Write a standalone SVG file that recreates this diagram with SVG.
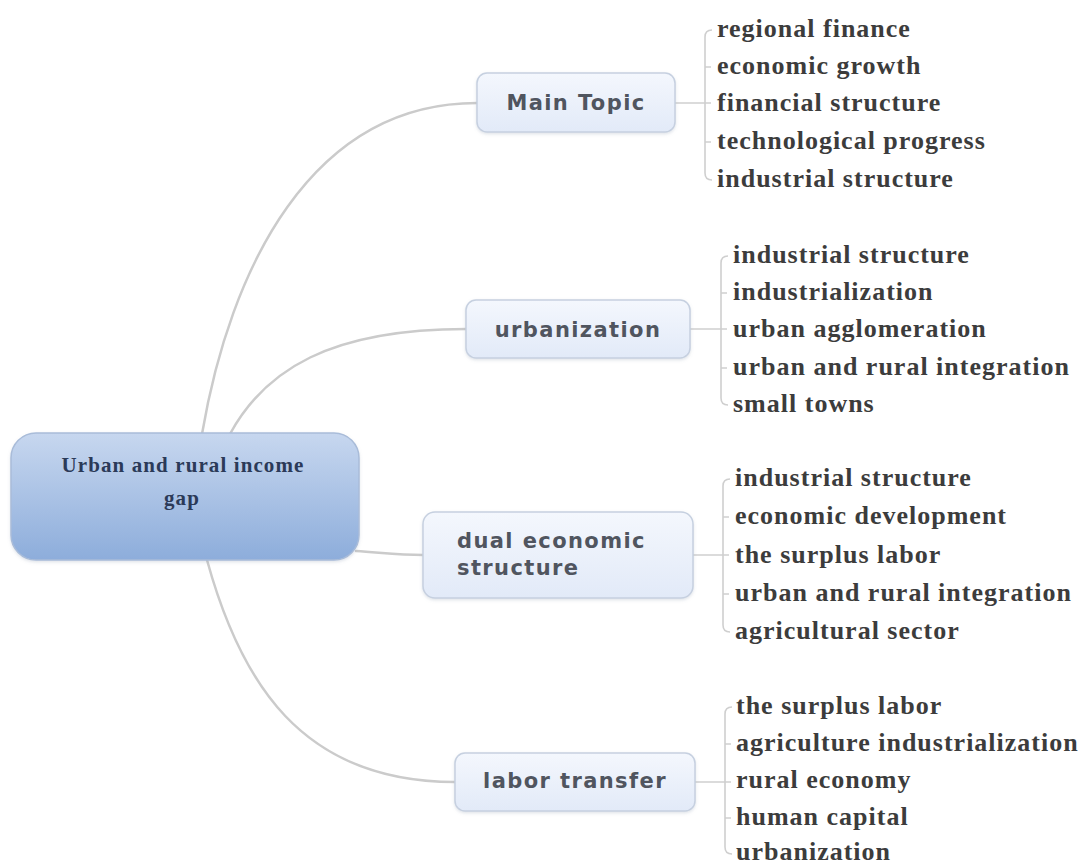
<svg xmlns="http://www.w3.org/2000/svg" width="1086" height="865" viewBox="0 0 1086 865">
  <defs>
    <linearGradient id="rootFill" x1="0" y1="0" x2="0" y2="1">
      <stop offset="0" stop-color="#c7d7ef"/>
      <stop offset="1" stop-color="#8daddb"/>
    </linearGradient>
    <linearGradient id="topicFill" x1="0" y1="0" x2="0" y2="1">
      <stop offset="0" stop-color="#f4f7fd"/>
      <stop offset="1" stop-color="#e2eaf8"/>
    </linearGradient>
    <filter id="soft" x="-10%" y="-10%" width="120%" height="130%">
      <feDropShadow dx="0" dy="1.5" stdDeviation="1.5" flood-color="#8090a8" flood-opacity="0.25"/>
    </filter>
  </defs>
  <style>
    .root { fill: url(#rootFill); stroke: #a9bcd9; stroke-width: 1.5; }
    .topic { fill: url(#topicFill); stroke: #c6d0e0; stroke-width: 1.5; }
    .root-label { font-family: "Liberation Serif", "Times New Roman", serif; font-weight: bold; font-size: 21px; letter-spacing: 1.1px; fill: #2b3a58; text-anchor: middle; }
    .topic-label { font-family: "DejaVu Sans", Verdana, sans-serif; font-weight: bold; font-size: 21px; letter-spacing: 1.4px; fill: #50555f; }
    .item { font-family: "Liberation Serif", "Times New Roman", serif; font-weight: bold; font-size: 26px; letter-spacing: 1px; fill: #3c3c3c; }
    .link { fill: none; stroke: #cbcbcb; stroke-width: 2.5; stroke-linecap: round; }
    .bracket { fill: none; stroke: #cfcfcf; stroke-width: 1.6; }
  </style>

  <rect width="1086" height="865" fill="#ffffff"/>

  <!-- curved branches from the central topic -->
  <g id="connectors">
    <path class="link" d="M202,434 C230,270 310,103 477,103"/>
    <path class="link" d="M230,434 C265,370 330,329 466,329"/>
    <path class="link" d="M356,551 C385,553 400,555 423,555"/>
    <path class="link" d="M207,560 C240,680 300,782 455,782"/>

    <!-- Main Topic sub-list -->
    <path class="bracket" d="M675,103 H711"/>
    <path class="bracket" d="M712,30 Q705,30 705,37 V173 Q705,180 712,180 M705,67 H711 M705,142 H711"/>
    <!-- urbanization sub-list -->
    <path class="bracket" d="M690,329 H727"/>
    <path class="bracket" d="M728,256 Q721,256 721,263 V398 Q721,405 728,405 M721,293 H727 M721,368 H727"/>
    <!-- dual economic structure sub-list -->
    <path class="bracket" d="M693,555 H729"/>
    <path class="bracket" d="M730,479 Q723,479 723,486 V625 Q723,632 730,632 M723,517 H729 M723,594 H729"/>
    <!-- labor transfer sub-list -->
    <path class="bracket" d="M695,782 H731"/>
    <path class="bracket" d="M732,707 Q725,707 725,714 V847 Q725,854 732,854 M725,744 H731 M725,818 H731"/>
  </g>

  <!-- central topic -->
  <g id="node-root">
    <rect class="root" x="11" y="433" width="348" height="127" rx="25" ry="25" filter="url(#soft)"/>
    <text class="root-label" x="183" y="472">Urban and rural income</text>
    <text class="root-label" x="182" y="505">gap</text>
  </g>

  <g id="node-main-topic">
    <rect class="topic" x="477" y="73" width="198" height="59" rx="10" ry="10" filter="url(#soft)"/>
    <text class="topic-label" x="576" y="110" text-anchor="middle">Main Topic</text>
  </g>

  <g id="node-urbanization">
    <rect class="topic" x="466" y="300" width="224" height="58" rx="10" ry="10" filter="url(#soft)"/>
    <text class="topic-label" x="578" y="337" text-anchor="middle">urbanization</text>
  </g>

  <g id="node-dual-economic-structure">
    <rect class="topic" x="423" y="512" width="270" height="86" rx="12" ry="12" filter="url(#soft)"/>
    <text class="topic-label" x="457" y="548">dual economic</text>
    <text class="topic-label" x="457" y="575">structure</text>
  </g>

  <g id="node-labor-transfer">
    <rect class="topic" x="455" y="753" width="240" height="58" rx="10" ry="10" filter="url(#soft)"/>
    <text class="topic-label" x="575" y="788" text-anchor="middle">labor transfer</text>
  </g>

  <g id="items-main-topic">
    <text class="item" x="717" y="37">regional finance</text>
    <text class="item" x="717" y="74">economic growth</text>
    <text class="item" x="717" y="111">financial structure</text>
    <text class="item" x="717" y="149">technological progress</text>
    <text class="item" x="717" y="187">industrial structure</text>
  </g>

  <g id="items-urbanization">
    <text class="item" x="733" y="263">industrial structure</text>
    <text class="item" x="733" y="300">industrialization</text>
    <text class="item" x="733" y="337">urban agglomeration</text>
    <text class="item" x="733" y="375">urban and rural integration</text>
    <text class="item" x="733" y="412">small towns</text>
  </g>

  <g id="items-dual-economic-structure">
    <text class="item" x="735" y="486">industrial structure</text>
    <text class="item" x="735" y="524">economic development</text>
    <text class="item" x="735" y="563">the surplus labor</text>
    <text class="item" x="735" y="601">urban and rural integration</text>
    <text class="item" x="735" y="639">agricultural sector</text>
  </g>

  <g id="items-labor-transfer">
    <text class="item" x="736" y="714">the surplus labor</text>
    <text class="item" x="736" y="751">agriculture industrialization</text>
    <text class="item" x="736" y="788">rural economy</text>
    <text class="item" x="736" y="825">human capital</text>
    <text class="item" x="736" y="860">urbanization</text>
  </g>
</svg>
